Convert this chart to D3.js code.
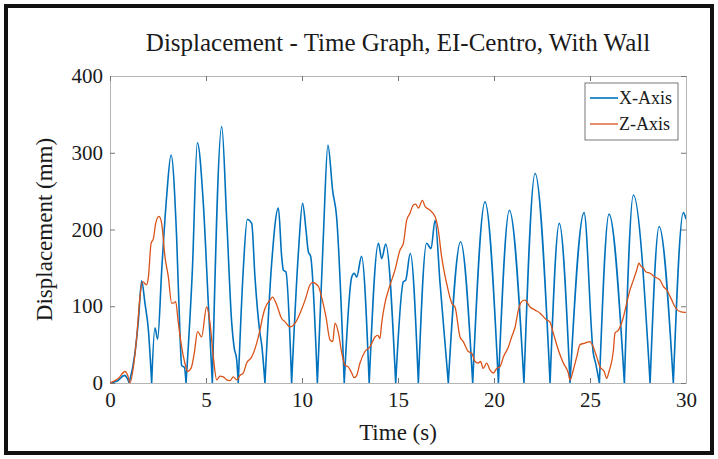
<!DOCTYPE html>
<html>
<head>
<meta charset="utf-8">
<script src="https://cdn.jsdelivr.net/npm/d3@7"></script>
<style>
  body { margin: 0; background: #fff; }
  svg { display: block; }
  svg text { font-family: "Liberation Serif", "DejaVu Serif", serif; fill: #1a1a1a; }
</style>
</head>
<body>
<svg id="chart" width="718" height="459"></svg>
<script>
// values: [time (s), displacement (mm)]
const xAxisData = [
  [0,0],[0.4,3],[0.75,10],[0.9,6],[1.0,0],
  [1.3,39],[1.48,82],[1.65,133],[1.82,104],[2.0,69],[2.17,0],
  [2.34,72],[2.48,57],[2.7,150],[2.95,243],[3.18,297],[3.47,190],[3.65,60],[3.73,23],[3.88,20],[3.96,0],
  [4.29,147],[4.55,313],[4.86,234],[5.12,104],[5.33,0],
  [5.82,334],[6.08,212],[6.34,78],[6.46,47],[6.6,30],[6.68,0],
  [6.94,147],[7.15,213],[7.38,208],[7.55,138],[7.81,65],[7.9,50],[8.07,0],
  [8.42,156],[8.77,228],[8.94,165],[9.03,147],[9.16,145],[9.46,0],
  [9.81,169],[10.03,234],[10.21,199],[10.33,171],[10.45,165],[10.8,0],
  [11.11,190],[11.35,310],[11.6,250],[11.8,217],[12.2,0],
  [12.59,138],[12.72,143],[12.85,138],[13.1,165],[13.5,0],
  [13.98,182],[14.15,162],[14.36,181],[14.88,0],
  [15.28,132],[15.4,134],[15.64,169],[16.06,0],
  [16.49,182],[16.72,175],[16.93,212],[17.19,130],[17.62,0],
  [18.26,184],[18.89,0],
  [19.53,236],[20.23,0],
  [20.8,225],[21.56,0],
  [22.14,273],[22.92,0],
  [23.4,208],[23.96,0],
  [24.69,222],[25.17,39],[25.3,25],[25.49,0],
  [25.99,220],[26.79,0],
  [27.26,245],[28.13,0],
  [28.6,204],[29.34,0],
  [29.86,222],[30,214]
];

const zAxisData = [
  [0,0],[0.43,6],[0.78,15],[0.92,10],[1.04,0],[1.22,21],[1.39,60],[1.56,112],[1.69,132],[1.91,128],
  [2.0,138],[2.14,182],[2.26,188],[2.38,208],[2.55,217],[2.69,208],[2.86,165],[3.04,138],[3.21,104],
  [3.3,104],[3.42,106],[3.56,78],[3.73,47],[3.9,26],[4.04,15],[4.22,19],[4.39,39],[4.56,67],[4.77,60],
  [5.03,99],[5.21,78],[5.38,34],[5.56,4],[5.73,9],[5.9,8],[6.08,4],[6.25,3],[6.42,8],[6.6,4],[6.77,10],
  [6.94,13],[7.12,26],[7.38,34],[7.64,52],[7.81,69],[7.95,86],[8.07,97],[8.33,108],[8.47,112],[8.68,102],
  [8.94,84],[9.11,80],[9.38,73],[9.64,78],[9.9,91],[10.16,108],[10.42,128],[10.55,131],[10.85,126],
  [11.02,112],[11.25,86],[11.46,56],[11.6,54],[11.72,78],[11.9,65],[12.07,39],[12.24,23],[12.41,21],
  [12.59,13],[12.72,7],[12.85,10],[13.02,26],[13.28,41],[13.54,47],[13.8,60],[13.95,62],[14.06,58],
  [14.15,78],[14.32,104],[14.5,121],[14.67,134],[14.84,147],[15.1,173],[15.28,182],[15.45,212],
  [15.62,221],[15.8,232],[15.92,233],[16.06,228],[16.27,238],[16.41,230],[16.67,225],[16.93,217],
  [17.1,199],[17.27,165],[17.53,130],[17.8,104],[17.97,99],[18.23,60],[18.4,54],[18.66,41],[18.84,39],
  [19.01,28],[19.18,26],[19.3,28],[19.44,19],[19.62,26],[19.79,17],[19.97,13],[20.14,19],[20.31,21],
  [20.49,34],[20.75,47],[20.92,60],[21.1,73],[21.27,95],[21.44,106],[21.61,108],[21.88,99],[22.14,95],
  [22.4,91],[22.74,82],[22.9,80],[23.09,65],[23.35,43],[23.61,26],[23.87,13],[23.96,4],[24.13,17],
  [24.31,34],[24.48,50],[24.74,52],[25.0,54],[25.17,47],[25.35,34],[25.52,21],[25.74,15],[25.87,6],
  [25.99,15],[26.22,43],[26.3,65],[26.48,69],[26.74,86],[26.91,104],[27.08,121],[27.26,134],[27.43,147],
  [27.55,156],[27.66,152],[27.78,150],[27.9,145],[28.13,143],[28.39,138],[28.65,134],[28.82,126],
  [29.0,121],[29.26,108],[29.43,99],[29.69,93],[29.95,92],[30,92]
];

const seriesNames = ["X-Axis", "Z-Axis"];
const xTicks = [0, 5, 10, 15, 20, 25, 30];
const yTicks = [0, 100, 200, 300, 400];

const titleText = "Displacement - Time Graph, EI-Centro, With Wall";
const xLabel = "Time (s)";
const yLabel = "Displacement (mm)";

const W = 718, H = 459;
const margin = { top: 76, right: 32, bottom: 76, left: 110 };
const width = W - margin.left - margin.right;
const height = H - margin.top - margin.bottom;
const serif = '"Liberation Serif", "DejaVu Serif", serif';

const svg = d3.select("#chart");

svg.append("rect").attr("width", W).attr("height", H).attr("fill", "#fff");
// black frame round the picture
svg.append("rect")
  .attr("x", 6).attr("y", 6).attr("width", W - 12).attr("height", H - 12)
  .attr("fill", "none").attr("stroke", "#111").attr("stroke-width", 4);

const x = d3.scaleLinear().domain([0, 30]).range([0, width]);
const y = d3.scaleLinear().domain([0, 400]).range([height, 0]);

const g = svg.append("g").attr("transform", `translate(${margin.left},${margin.top})`);

svg.append("defs").append("clipPath").attr("id", "plot-clip")
  .append("rect").attr("x", 0).attr("y", -1).attr("width", width).attr("height", height + 1);

// axes (ticks point inward, box on)
const styleAxis = (sel) => {
  sel.attr("font-family", serif);
  sel.select(".domain").attr("stroke", "#b4b4b4");
  sel.selectAll(".tick line").attr("stroke", "#777");
  sel.selectAll(".tick text").attr("fill", "#1a1a1a").attr("font-size", 21)
    .style("font-family", serif);
};

g.append("g").attr("transform", `translate(0,${height})`)
  .call(d3.axisBottom(x).tickValues(xTicks).tickSize(-5).tickSizeOuter(0).tickPadding(9))
  .call(styleAxis);
g.append("g")
  .call(d3.axisLeft(y).tickValues(yTicks).tickSize(-5).tickSizeOuter(0).tickPadding(7))
  .call(styleAxis);
g.append("g")
  .call(d3.axisTop(x).tickValues(xTicks).tickSize(-5).tickSizeOuter(0).tickFormat(""))
  .call(styleAxis);
g.append("g").attr("transform", `translate(${width},0)`)
  .call(d3.axisRight(y).tickValues(yTicks).tickSize(-5).tickSizeOuter(0).tickFormat(""))
  .call(styleAxis);

const lineGen = d3.line()
  .x(d => x(d[0]))
  .y(d => y(d[1]))
  .curve(d3.curveMonotoneX);

// split the X-axis trace at its zero touches so each arch keeps a sharp bottom
const arches = [];
let cur = [];
xAxisData.forEach((p, i) => {
  cur.push(p);
  if (p[1] === 0 && i > 0 && i < xAxisData.length - 1) {
    arches.push(cur);
    cur = [p];
  }
});
if (cur.length > 1) arches.push(cur);

const plot = g.append("g").attr("clip-path", "url(#plot-clip)");

plot.append("path")
  .attr("d", arches.map(a => lineGen(a)).join(""))
  .attr("fill", "none")
  .attr("stroke", "#0072BD")
  .attr("stroke-width", 1.6)
  .attr("stroke-linejoin", "round")
  .attr("stroke-linecap", "round");

plot.append("path")
  .datum(zAxisData)
  .attr("d", lineGen)
  .attr("fill", "none")
  .attr("stroke", "#D95319")
  .attr("stroke-width", 1.3)
  .attr("stroke-linejoin", "round");

// title and axis labels
svg.append("text")
  .attr("x", margin.left + width / 2).attr("y", 51)
  .attr("text-anchor", "middle")
  .style("font-family", serif)
  .style("font-size", "25px")
  .text(titleText);

svg.append("text")
  .attr("x", margin.left + width / 2).attr("y", 440)
  .attr("text-anchor", "middle")
  .style("font-family", serif)
  .style("font-size", "23px")
  .text(xLabel);

svg.append("text")
  .attr("transform", `translate(52,${margin.top + height / 2}) rotate(-90)`)
  .attr("text-anchor", "middle")
  .style("font-family", serif)
  .style("font-size", "23px")
  .text(yLabel);

// legend
const colors = ["#0072BD", "#D95319"];
const legend = svg.append("g").attr("transform", "translate(585,83)");
legend.append("rect")
  .attr("width", 93).attr("height", 57)
  .attr("fill", "#fff").attr("stroke", "#555").attr("stroke-width", 0.8);
seriesNames.forEach((name, i) => {
  const ly = 15 + i * 26;
  legend.append("line")
    .attr("x1", 5).attr("x2", 33).attr("y1", ly).attr("y2", ly)
    .attr("stroke", colors[i]).attr("stroke-width", i === 0 ? 1.6 : 1.3);
  legend.append("text")
    .attr("x", 34).attr("y", ly + 6)
    .style("font-family", serif)
    .style("font-size", "18px")
    .text(name);
});
</script>
</body>
</html>
